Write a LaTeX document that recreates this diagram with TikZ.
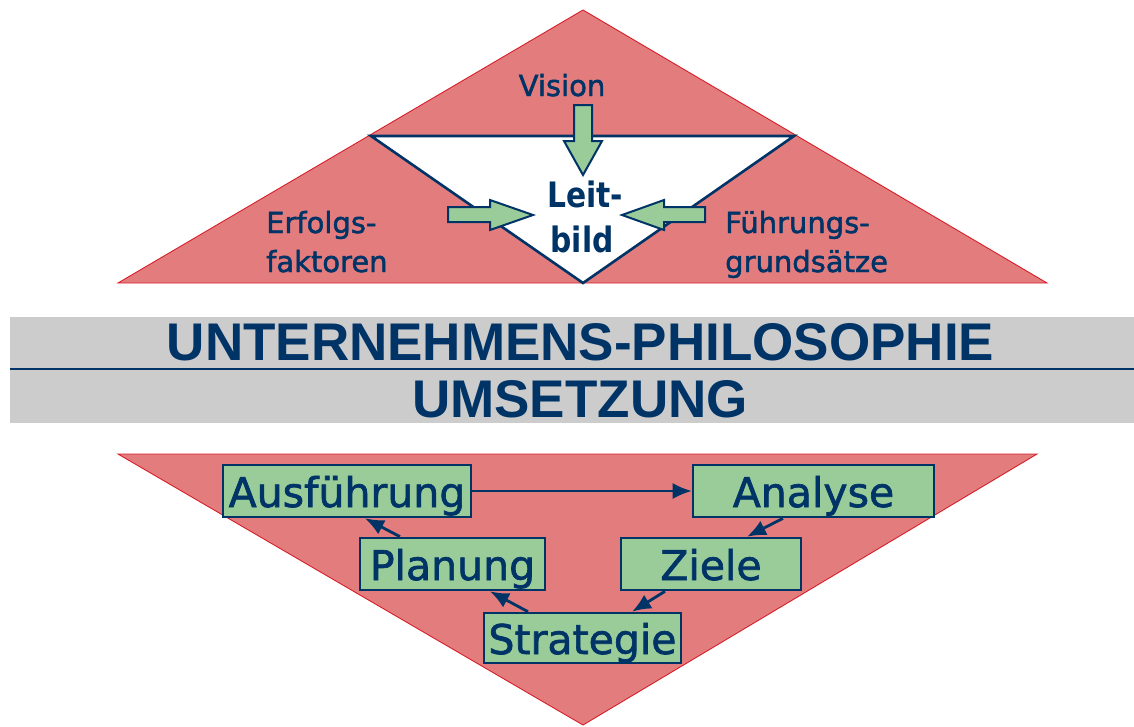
\documentclass[tikz,border=0pt]{standalone}
\usepackage{fontspec}
\setmainfont{DejaVu Sans}
\newfontfamily\medfont{DejaVu Sans}[UprightFeatures={FakeBold=1.6}]
\newfontfamily\titlefont{Liberation Sans}
\newfontfamily\leitfont{DejaVu Sans}[FakeStretch=0.85]
\usetikzlibrary{arrows.meta}
\definecolor{navy}{RGB}{0,51,102}
\definecolor{pinkfill}{RGB}{227,125,125}
\definecolor{redline}{RGB}{214,30,40}
\definecolor{boxgreen}{RGB}{153,204,153}
\definecolor{bandgray}{RGB}{204,204,204}
\begin{document}
\begin{tikzpicture}[x=1pt,y=-1pt,
  pinktri/.style={fill=pinkfill,draw=redline,line width=0.9pt,line join=miter},
  blockarrow/.style={fill=boxgreen,draw=navy,line width=2pt,line join=miter},
  lbl/.style={inner sep=0pt,text=navy,font=\medfont\fontsize{29}{29}\selectfont},
  leit/.style={inner sep=0pt,text=navy,font=\leitfont\bfseries\fontsize{35}{35}\selectfont,anchor=base},
  title/.style={inner sep=0pt,text=navy,font=\titlefont\bfseries\fontsize{53}{53}\selectfont,anchor=base},
  stepbox/.style={draw=navy,line width=2.6pt,fill=boxgreen,text=navy,
    font=\medfont\fontsize{41}{41}\selectfont,inner xsep=0pt,inner ysep=0pt,
    text height=42pt,text depth=10pt,anchor=base},
  conn/.style={draw=navy,line width=2.8pt,-{Latex[length=19pt,width=16pt]}},
]
\useasboundingbox (0,0) rectangle (1134,726);

% ---------- upper triangle ----------
\path[pinktri] (118,283) -- (583,10) -- (1047,283) -- cycle;
\path[fill=white,draw=navy,line width=2.6pt,line join=miter]
  (371,136) -- (794,136) -- (583,283) -- cycle;

% block arrows
\path[blockarrow] (574,105) -- (592,105) -- (592,141) -- (602,141) -- (583,175)
  -- (564,141) -- (574,141) -- cycle;
\path[blockarrow] (448,207) -- (490,207) -- (490,200) -- (533,215) -- (490,230)
  -- (490,222) -- (448,222) -- cycle;
\path[blockarrow] (705,207) -- (664,207) -- (664,200) -- (622,215) -- (664,230)
  -- (664,222) -- (705,222) -- cycle;

\node[lbl,anchor=base] (vision) at (562,96) {Vision};
\node[leit] (leit1) at (585,207) {Leit-};
\node[leit] (leit2) at (582,252) {bild};
\node[lbl,anchor=base west] (erf1) at (266,233) {Erfolgs-};
\node[lbl,anchor=base west] (erf2) at (266,272) {faktoren};
\node[lbl,anchor=base west] (fue1) at (725,233) {Führungs-};
\node[lbl,anchor=base west] (fue2) at (725,272) {grundsätze};

% ---------- band ----------
\fill[bandgray] (10,317) rectangle (1134,423);
\draw[navy,line width=2pt] (10,369) -- (1134,369);
\node[title] (t1) at (580.5,360) {UNTERNEHMENS-PHILOSOPHIE};
\node[title] (t2) at (580,417) {UMSETZUNG};

% ---------- lower triangle ----------
\path[pinktri] (118,454) -- (1037,454) -- (583,725) -- cycle;

\node[stepbox,minimum width=248pt] (ausf) at (347,507) {Ausführung};
\node[stepbox,minimum width=241pt] (anal) at (813.5,507) {Analyse};
\node[stepbox,minimum width=180pt] (ziel) at (711,580) {Ziele};
\node[stepbox,minimum width=185pt] (plan) at (452.5,580) {Planung};
\node[stepbox,minimum width=197pt,text height=41pt,text depth=9pt] (strat) at (582.5,654) {Strategie};

\draw[conn,line width=2.2pt] (ausf.east) -- (anal.west);
\draw[conn] ([xshift=-30.5pt]anal.south) -- ([xshift=36pt]ziel.north);
\draw[conn] ([xshift=-46pt]ziel.south) -- ([xshift=49.5pt]strat.north);
\draw[conn] ([xshift=-54.5pt]strat.north) -- ([xshift=37.5pt]plan.south);
\draw[conn] ([xshift=-52.5pt]plan.north) -- ([xshift=18pt]ausf.south);
\end{tikzpicture}
\end{document}
